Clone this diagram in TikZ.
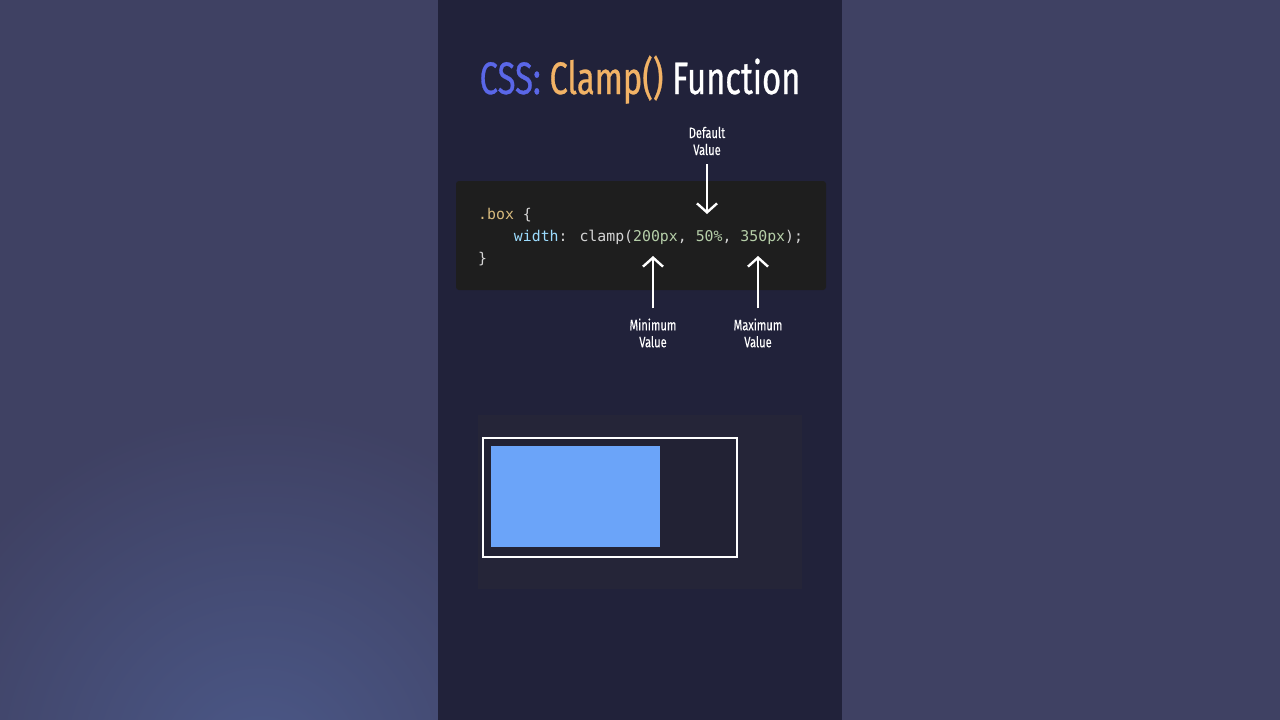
\documentclass[tikz,border=0pt]{standalone}
\usepackage{fontspec}
\usetikzlibrary{arrows.meta}
\newfontfamily\condfont[FakeStretch=0.72,FakeBold=0.6]{Fira Sans}
\newfontfamily\lblfont[FakeStretch=0.74,FakeBold=0.12]{Fira Sans}
\newfontfamily\codefont{DejaVu Sans Mono}
\definecolor{sidebg}{HTML}{3F4163}
\definecolor{glow}{HTML}{4B5888}
\definecolor{panelbg}{HTML}{21223A}
\definecolor{codebg}{HTML}{1E1E1E}
\definecolor{prevbg}{HTML}{252538}
\definecolor{framebg}{HTML}{222234}
\definecolor{boxblue}{HTML}{6BA4F9}
\definecolor{cssblue}{HTML}{5A67E8}
\definecolor{clamporange}{HTML}{F2B366}
\definecolor{selcol}{HTML}{D7BA7D}
\definecolor{propcol}{HTML}{9CDCFE}
\definecolor{numcol}{HTML}{B5CEA8}
\definecolor{plain}{HTML}{D4D4D4}
\tikzset{
  lbl/.style={text=white,font=\lblfont\fontsize{15}{17}\selectfont,align=center,inner sep=0pt},
  codeline/.style={anchor=base west,inner sep=0pt,font=\codefont\fontsize{14.85}{22}\selectfont,text=plain},
  pointer/.style={draw=white,line width=2.4pt,-{Straight Barb[length=9pt,width=20pt,line width=2.4pt]}}
}
\begin{document}
\begin{tikzpicture}[x=1pt,y=-1pt]
\useasboundingbox (0,0) rectangle (1280,720);
\fill[sidebg] (0,0) rectangle (1280,720);
\begin{scope}
\clip (0,0) rectangle (438,720);
\shade[inner color=glow,outer color=sidebg] (260,770) circle (360);
\end{scope}
\fill[panelbg] (438,0) rectangle (842,720);
% title
\node[anchor=base,inner sep=0pt,font=\condfont\fontsize{45.5}{50}\selectfont] (title) at (640,94)
  {\textcolor{cssblue}{CSS:} \textcolor{clamporange}{Clamp()} \textcolor{white}{Function}};
% code box
\fill[codebg,rounded corners=3pt] (456,181) rectangle (826,290);
\node[codeline] (l1) at (478,219) {\textcolor{selcol}{.box} \{};
\node[codeline] (l2) at (478,241) {\phantom{....}\textcolor{propcol}{width}: clamp(\textcolor{numcol}{200px}, \textcolor{numcol}{50\%}, \textcolor{numcol}{350px});};
\node[codeline] (l3) at (478,263) {\}};
% labels
\node[lbl] (defl) at (707,141) {Default\\Value};
\node[lbl] (minl) at (653,333) {Minimum\\Value};
\node[lbl] (maxl) at (758,333) {Maximum\\Value};
\coordinate (dtip) at (707,214);
\coordinate (mintip) at (653,256);
\coordinate (maxtip) at (758,256);
\draw[pointer] (defl.south) ++(0,9) coordinate (dstart) -- (dtip);
\draw[pointer] (minl.north) ++(0,-10) coordinate (mstart) -- (mintip);
\draw[pointer] (maxl.north) ++(0,-10) coordinate (xstart) -- (maxtip);
% preview
\fill[prevbg] (478,415) rectangle (802,589);
\node[draw=white,line width=2pt,fill=framebg,anchor=north west,minimum width=254pt,minimum height=119pt,inner sep=0pt] (frame) at (482,437) {};
\node[fill=boxblue,anchor=north west,minimum width=169pt,minimum height=101pt,inner sep=0pt] (blue) at (491,446) {};
\end{tikzpicture}
\end{document}
